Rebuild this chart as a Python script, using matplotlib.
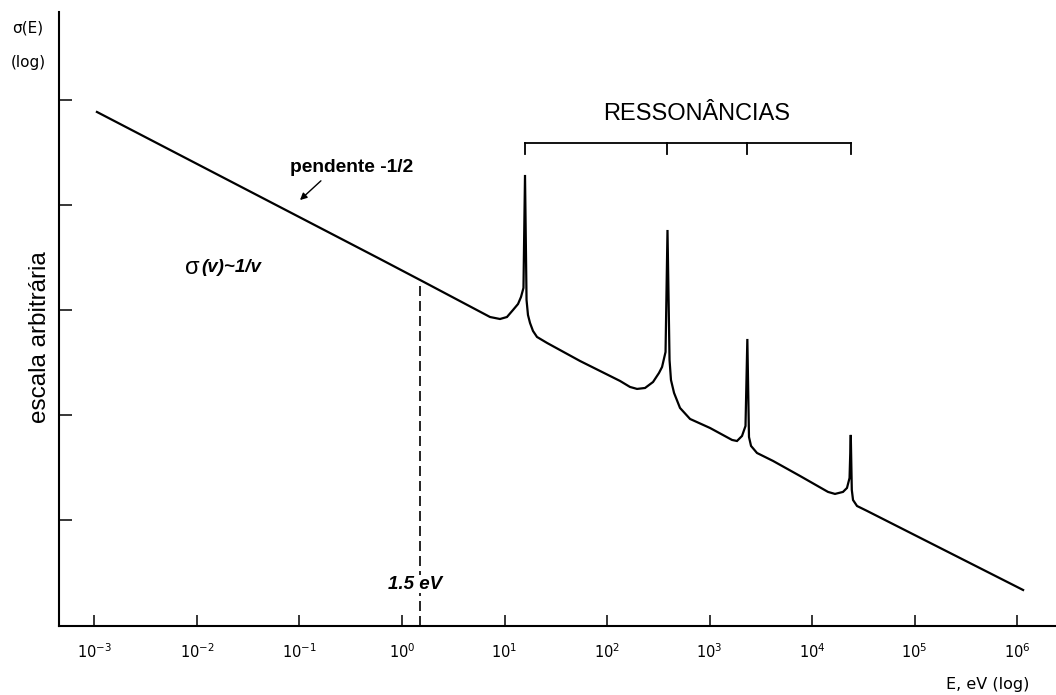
import numpy as np
import matplotlib.pyplot as plt

# curve (log10 of E in eV, log10 of sigma in arbitrary units)
log_E = [-2.976, -0.215, 0.195, 0.859, 0.956, 1.024, 1.083, 1.132, 1.161, 1.185,
         1.200, 1.215, 1.229, 1.249, 1.278, 1.317, 1.415, 1.737, 2.127, 2.224,
         2.293, 2.371, 2.449, 2.507, 2.537, 2.571, 2.590, 2.610, 2.624, 2.654,
         2.712, 2.810, 3.005, 3.220, 3.268, 3.317, 3.351, 3.369, 3.385, 3.405,
         3.463, 3.620, 3.883, 4.156, 4.224, 4.302, 4.341, 4.366, 4.378, 4.388,
         4.400, 4.439, 4.537, 6.059]
log_sigma = [3.886, 2.486, 2.276, 1.933, 1.914, 1.933, 2.000, 2.057, 2.124, 2.210,
             3.286, 2.095, 1.952, 1.876, 1.800, 1.743, 1.686, 1.514, 1.324, 1.267,
             1.248, 1.257, 1.314, 1.400, 1.457, 1.600, 2.762, 1.524, 1.333, 1.210,
             1.067, 0.962, 0.876, 0.762, 0.752, 0.800, 0.895, 1.724, 0.790, 0.705,
             0.638, 0.562, 0.419, 0.267, 0.248, 0.267, 0.305, 0.400, 0.810, 0.286,
             0.190, 0.133, 0.086, -0.667]

E = 10 ** np.array(log_E)
sigma = 10 ** np.array(log_sigma)

# resonance energies (peak positions) for the bracket
res_E = [10**1.200, 10**2.590, 10**3.369, 10**4.378]
bracket_sigma = 10**3.586
bracket_tick = 10**3.486

thermal_E = 1.5
thermal_sigma = 10**2.276

xtick_exp = [-3, -2, -1, 0, 1, 2, 3, 4, 5, 6]
ytick_exp = [0, 1, 2, 3, 4]

W, H = 1056, 695
fig = plt.figure(figsize=(W/100, H/100), dpi=100)
ax = fig.add_axes([59/W, (H-626)/H, (W-59)/W, (626-12)/H])

ax.plot(E, sigma, color='black', lw=1.6, solid_joinstyle='miter')

ax.set_xscale('log')
ax.set_yscale('log')
ax.set_xlim(10**-3.346, 10**6.38)
ax.set_ylim(10**-1.01, 10**4.838)

# dashed line at 1.5 eV
ax.vlines(thermal_E, 10**-1.01, thermal_sigma, colors='black', linestyles=(0, (6, 3)), lw=1.2)
ax.text(10**0.127, 10**-0.61, '1.5 eV', ha='center', va='center', fontsize=13.5,
        fontstyle='italic', fontweight='bold', family='Liberation Sans',
        bbox=dict(facecolor='white', edgecolor='none', pad=0.5))

# bracket over the resonances
ax.plot([res_E[0], res_E[-1]], [bracket_sigma, bracket_sigma], color='black', lw=1.3)
for r in res_E:
    ax.plot([r, r], [bracket_tick, bracket_sigma], color='black', lw=1.3)
ax.text(10**2.875, 10**3.867, 'RESSONÂNCIAS', ha='center', va='center', fontsize=17,
        family='Liberation Sans')

# slope annotation
ax.annotate('', xy=(10**-1.015, 10**3.029), xytext=(10**-0.771, 10**3.248),
            arrowprops=dict(arrowstyle='-|>', color='black', lw=1, mutation_scale=10))
ax.text(10**-1.093, 10**3.314, 'pendente -1/2', ha='left', va='baseline', fontsize=13.8,
        fontweight='bold', family='Liberation Sans')

ax.text(10**-2.117, 10**2.4, 'σ', ha='left', va='center', fontsize=17, family='Liberation Sans')
ax.text(10**-1.96, 10**2.4, '(v)~1/v', ha='left', va='center', fontsize=13.5,
        fontstyle='italic', fontweight='bold', family='Liberation Sans')

# axes styling
for s in ['top', 'right']:
    ax.spines[s].set_visible(False)
for s in ['left', 'bottom']:
    ax.spines[s].set_linewidth(1.5)

ax.set_xticks([10.0**k for k in xtick_exp])
ax.set_xticklabels(['$10^{%d}$' % k for k in xtick_exp], fontsize=10.5)
ax.set_yticks([10.0**k for k in ytick_exp])
ax.set_yticklabels([])
ax.minorticks_off()
ax.tick_params(axis='x', direction='in', length=8, width=1.1, pad=12)
ax.tick_params(axis='y', direction='in', length=9, width=1.1)

fig.text(28/W, 1 - 28/H, 'σ(E)', ha='center', va='center', fontsize=11)
fig.text(28/W, 1 - 62/H, '(log)', ha='center', va='center', fontsize=11)
fig.text(40/W, 1 - 337/H, 'escala arbitrária', rotation=90, ha='center', va='center',
         fontsize=17.5, family='Liberation Sans')
fig.text(988/W, 1 - 685/H, 'E, eV (log)', ha='center', va='center', fontsize=11.5)

fig.savefig('out.png', dpi=100)
